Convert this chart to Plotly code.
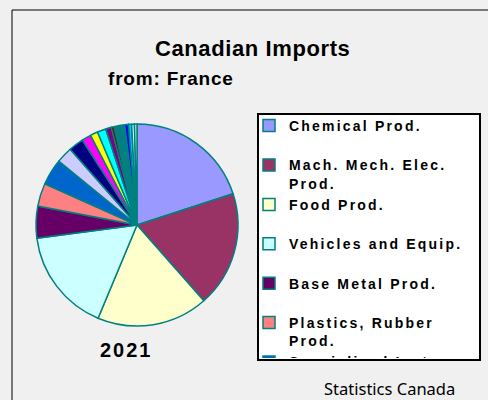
"""Canadian imports from France, 2021 - pie chart."""

import plotly.graph_objects as go

sections = [
    "Chemical Prod.",
    "Mach. Mech. Elec.<br>Prod.",
    "Food Prod.",
    "Vehicles and Equip.",
    "Base Metal Prod.",
    "Plastics, Rubber<br>Prod.",
    "Specialized Inst.",
    "Misc. Manuf.",
    "Mineral Prod.",
    "Textiles",
    "Stone and Glass",
    "Vegetable Prod.",
    "Paper Prod.",
    "Animal Prod.",
    "Leather Prod.",
    "Footwear",
    "Wood Prod.",
    "Special Class.",
    "Fats and Oils",
]

shares_pct = [
    20.0, 18.5, 17.8, 16.6, 5.1, 3.7, 4.2, 2.6, 2.4, 1.5,
    1.2, 1.4, 0.9, 0.45, 1.7, 0.6, 0.5, 0.45, 0.4,
]

slice_colors = [
    "#9999FF", "#993366", "#FFFFCC", "#CCFFFF", "#660066", "#FF8080",
    "#0066CC", "#CCCCFF", "#000080", "#FF00FF", "#FFFF00", "#00FFFF",
    "#800080", "#800000", "#008080", "#0000FF", "#00CCFF", "#CCFFFF",
    "#CCFFCC",
]

W, H = 488, 400
BG = "#F0F0F0"


def spaced(text, px):
    return f'<span style="letter-spacing:{px}px">{text}</span>'


def label(text, x, y, size, family="Liberation Sans"):
    fig.add_annotation(
        text=text, x=x / W, y=1 - y / H,
        xref="paper", yref="paper", showarrow=False,
        xanchor="center", yanchor="middle",
        font={"family": family, "size": size, "color": "#000000"},
    )


# single-line entries get an empty second line so every entry is two lines tall
legend_labels = []
for s in sections:
    lines = s.split("<br>")
    if len(lines) == 1:
        lines.append(" ")
    legend_labels.append("<br>".join(spaced(line, 2.2) for line in lines))

fig = go.Figure()

fig.add_trace(
    go.Pie(
        labels=legend_labels,
        values=shares_pct,
        sort=False,
        direction="clockwise",
        rotation=0,
        textinfo="none",
        marker={
            "colors": slice_colors,
            "line": {"color": "#008080", "width": 1.5},
        },
        domain={"x": [36 / W, 238 / W], "y": [1 - 327 / H, 1 - 123 / H]},
    )
)

label("<b>" + spaced("Canadian Imports", 0.6) + "</b>", 252, 48, 22)
label("<b>" + spaced("from: France", 0.8) + "</b>", 171, 78, 19)
label("<b>" + spaced("2021", 2) + "</b>", 127, 350, 20)
label("Statistics Canada", 389, 388, 16.5, family="Noto Sans")

# outer frame
fig.add_shape(
    type="rect", xref="paper", yref="paper",
    x0=12 / W, y0=-0.1, x1=1.1, y1=1 - 10 / H,
    line={"color": "#000000", "width": 1},
)
# legend box
fig.add_shape(
    type="rect", xref="paper", yref="paper",
    x0=258 / W, y0=1 - 360 / H, x1=480 / W, y1=1 - 114 / H,
    fillcolor="#FFFFFF", line={"color": "#000000", "width": 2},
)

fig.update_layout(
    width=W,
    height=H,
    margin={"l": 0, "r": 0, "t": 0, "b": 0, "autoexpand": False},
    paper_bgcolor=BG,
    plot_bgcolor=BG,
    showlegend=True,
    legend={
        "x": 249 / W,
        "y": 1 - 110 / H,
        "xanchor": "left",
        "yanchor": "top",
        "bgcolor": "rgba(0,0,0,0)",
        "borderwidth": 0,
        "valign": "top",
        "maxheight": 248,
        "font": {"family": "Liberation Sans", "size": 14, "color": "#000000",
                 "weight": "bold"},
    },
)

page_fix = (
    "document.body.style.margin='0';"
    f"document.body.style.background='{BG}';"
    "document.querySelectorAll('.legend .scrollbar')"
    ".forEach(function(e){e.style.display='none';});"
)

fig.write_html("out.html", post_script=page_fix,
               config={"displayModeBar": False})
